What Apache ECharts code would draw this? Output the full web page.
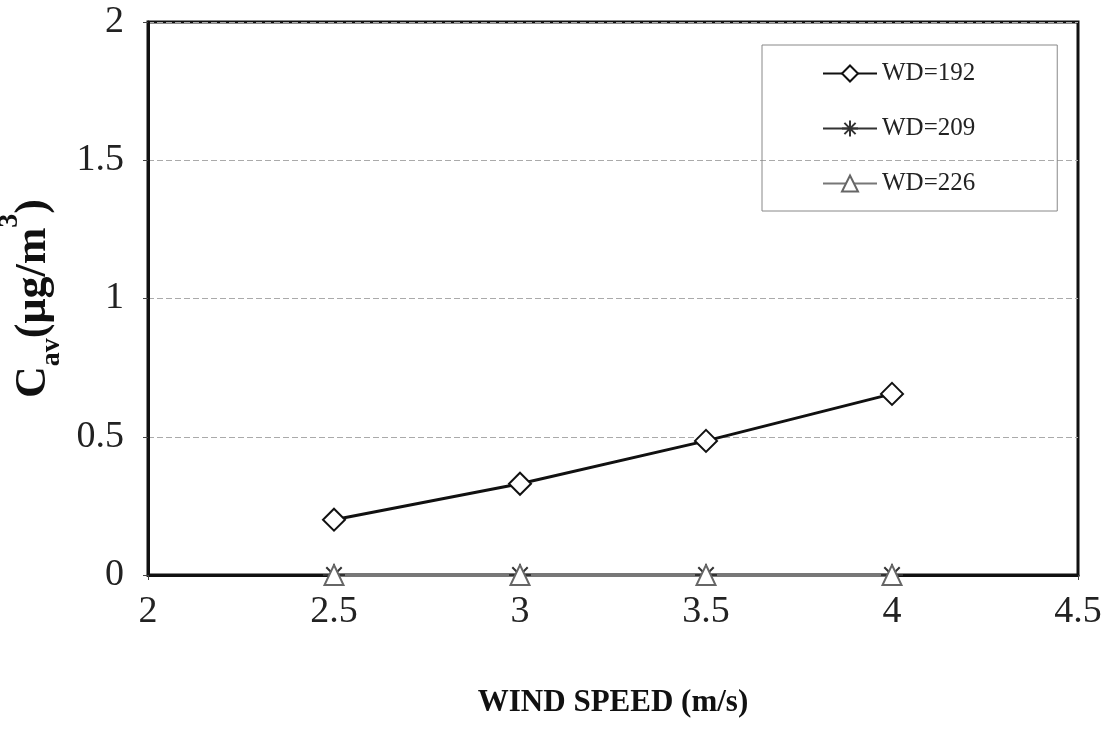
<!DOCTYPE html>
<html>
<head>
<meta charset="utf-8">
<script src="https://cdn.jsdelivr.net/npm/echarts@6/dist/echarts.min.js"></script>
<style>html,body{margin:0;padding:0;background:#fff;}#c{width:1107px;height:732px;}</style>
</head>
<body>
<div id="c"></div>
<script>
var windSpeed = [2.5, 3, 3.5, 4];
var wd192 = [0.2, 0.33, 0.485, 0.655];
var wd209 = [0, 0, 0, 0];
var wd226 = [0, 0, 0, 0];
var seriesNames = ['WD=192', 'WD=209', 'WD=226'];

function pairs(v) { return windSpeed.map(function (x, i) { return [x, v[i]]; }); }

var starPath = 'path://M10,0 L10,20 M0,10 L20,10 M3,3 L17,17 M17,3 L3,17';
var font = '"Liberation Serif","Times New Roman",serif';

var chart = echarts.init(document.getElementById('c'));
chart.setOption({
  animation: false,
  backgroundColor: '#fff',
  grid: { left: 148, right: 29, top: 22, bottom: 157, outerBoundsMode: 'none', containLabel: false,
          show: true, borderColor: '#111', borderWidth: 3, backgroundColor: 'transparent' },
  legend: {
    orient: 'vertical', left: 762, top: 45,
    padding: [16, 82, 15, 60], itemGap: 30,
    itemWidth: 54, itemHeight: 20,
    borderColor: '#888', borderWidth: 1,
    textStyle: { fontFamily: font, fontSize: 25, color: '#222' },
    data: seriesNames
  },
  xAxis: {
    type: 'value', min: 2, max: 4.5, interval: 0.5,
    name: 'WIND SPEED (m/s)', nameLocation: 'middle', nameGap: 112,
    nameTextStyle: { fontFamily: font, fontSize: 31, fontWeight: 'bold', color: '#111' },
    axisLine: { show: true, lineStyle: { color: '#111', width: 3 } },
    axisTick: { show: true, length: 5, lineStyle: { color: '#444' } },
    axisLabel: { fontFamily: font, fontSize: 38, color: '#222', margin: 18 },
    splitLine: { show: false }
  },
  yAxis: {
    type: 'value', min: 0, max: 2, interval: 0.5,
    name: '{c|C}{s|av}{c|(μg/m}{p|3}{c|)}', nameLocation: 'middle', nameGap: 88, nameRotate: 90,
    nameTextStyle: {
      fontFamily: font, color: '#111',
      rich: {
        c: { fontFamily: font, fontSize: 44, fontWeight: 'bold', color: '#111', verticalAlign: 'bottom', lineHeight: 48 },
        s: { fontFamily: font, fontSize: 28, fontWeight: 'bold', color: '#111', verticalAlign: 'bottom', lineHeight: 36, padding: [0, 0, -10, 0] },
        p: { fontFamily: font, fontSize: 28, fontWeight: 'bold', color: '#111', verticalAlign: 'top', lineHeight: 60 }
      }
    },
    axisLine: { show: true, lineStyle: { color: '#111', width: 3 } },
    axisTick: { show: true, length: 5, lineStyle: { color: '#444' } },
    axisLabel: { fontFamily: font, fontSize: 38, color: '#222', margin: 24 },
    splitLine: { show: true, lineStyle: { color: '#aaa', width: 1, type: [6, 3] } }
  },
  series: [
    {
      name: seriesNames[0], type: 'line', data: pairs(wd192),
      symbol: 'diamond', symbolSize: 22, showAllSymbol: true,
      lineStyle: { color: '#111', width: 3 },
      itemStyle: { color: '#fff', borderColor: '#111', borderWidth: 2 }
    },
    {
      name: seriesNames[1], type: 'line', data: pairs(wd209),
      symbol: starPath, symbolSize: 22,
      lineStyle: { color: '#333', width: 3 },
      itemStyle: { color: 'transparent', borderColor: '#333', borderWidth: 2 }
    },
    {
      name: seriesNames[2], type: 'line', data: pairs(wd226),
      symbol: 'triangle', symbolSize: [19, 20],
      lineStyle: { color: '#777', width: 4 },
      itemStyle: { color: '#fff', borderColor: '#666', borderWidth: 2 }
    }
  ]
});
</script>
</body>
</html>
